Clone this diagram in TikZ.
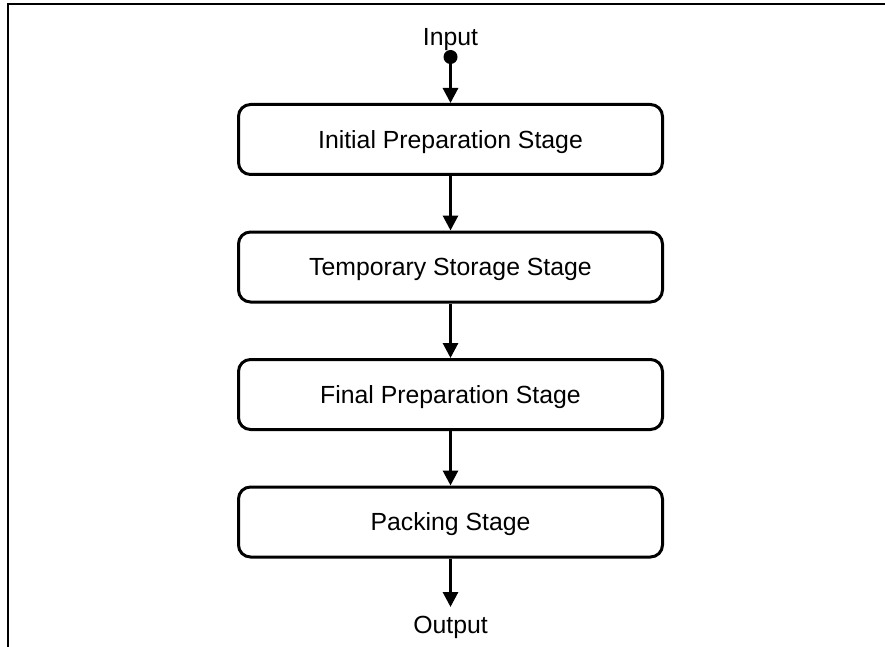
\documentclass[tikz,border=0pt]{standalone}
\usepackage{fontspec}
\setmainfont{Liberation Sans}
\usetikzlibrary{positioning,arrows.meta}

\begin{document}
\begin{tikzpicture}[x=1pt, y=-1pt,
    font=\fontsize{24.8}{30}\selectfont,
    stagebox/.style={draw, line width=3pt, rounded corners=12pt,
        minimum width=424pt, minimum height=70pt, inner sep=0pt,
        text height=17.8pt, text depth=0pt},
    flow/.style={-{Triangle[length=15pt, width=15pt]}, line width=3pt}]
    \useasboundingbox (0,0) rectangle (885,647);
    \draw[line width=2pt] (8,647) -- (8,4.5) -- (885,4.5);
    \node[stagebox] (initial) at (450.5,139.5) {Initial Preparation Stage};
    \node[stagebox, below=54.5pt of initial] (temporary) {Temporary Storage Stage};
    \node[stagebox, below=54.5pt of temporary] (final) {Final Preparation Stage};
    \node[stagebox, below=54.5pt of final] (packing) {Packing Stage};
    \node[anchor=base] (input) at (450.5,46) {Input};
    \node[anchor=base] (output) at (450.5,633) {Output};
    \coordinate (indot) at (450.5,57);
    \coordinate (outend) at (450.5,607);
    \fill (indot) circle (7pt);
    \draw[flow] (indot) -- (initial);
    \draw[flow] (initial) -- (temporary);
    \draw[flow] (temporary) -- (final);
    \draw[flow] (final) -- (packing);
    \draw[flow] (packing) -- (outend);
\end{tikzpicture}
\end{document}
